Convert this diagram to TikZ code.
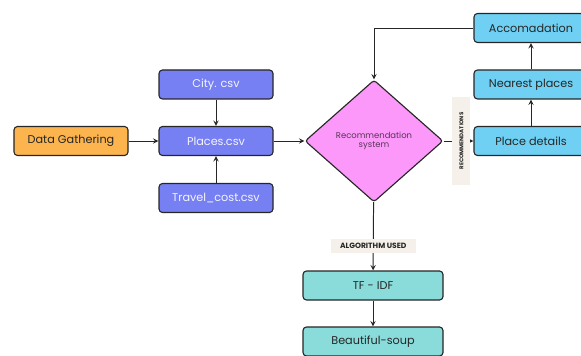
\documentclass[tikz,border=0pt]{standalone}
\usepackage{fontspec}
\setmainfont{Poppins}
\usepackage{tikz}
\usetikzlibrary{arrows.meta,calc,positioning,shapes.geometric}

\definecolor{gatherorange}{HTML}{FBB44E}
\definecolor{csvblue}{HTML}{7680F2}
\definecolor{recpink}{HTML}{FC98FA}
\definecolor{outblue}{HTML}{6FD0F3}
\definecolor{algoteal}{HTML}{8ADCDA}
\definecolor{tagbeige}{HTML}{F5F1EA}

\begin{document}
\begin{tikzpicture}[
    every node/.style={font=\footnotesize},
    >=stealth,
    box/.style={draw=black!85, line width=0.8pt, rounded corners=2.5pt,
        minimum width=2.85cm, minimum height=0.725cm, inner sep=1pt},
    csvbox/.style={box, fill=csvblue, text=white!92!csvblue},
    outbox/.style={box, fill=outblue, text=black!85},
    algobox/.style={box, fill=algoteal, text=black!85, minimum width=3.5cm},
    tag/.style={fill=tagbeige, inner sep=1pt, text=black!85},
    link/.style={->, line width=0.7pt, black!85}
]

\useasboundingbox (0,0) rectangle (14.525,-8.9);

% Input side
\node[box, fill=gatherorange, text=black!85] (gather) at (1.775,-3.525)
    {Data Gathering};
\node[csvbox] (city) at (5.4,-2.1125) {City. csv};
\node[csvbox] (places) at (5.4,-3.525) {Places.csv};
\node[csvbox] (travel) at (5.4,-4.95) {Travel\_cost.csv};

\draw[link] (gather) -- (places);
\draw[link] (city) -- (places);
\draw[link] (travel) -- (places);

% Recommendation system
\node[diamond, draw=black!85, line width=0.8pt, fill=recpink,
    rounded corners=2pt, aspect=1.13, inner sep=0pt,
    minimum width=3.45cm, minimum height=3.05cm,
    align=center, text=black!65!recpink,
    font=\fontsize{6}{6.5}\selectfont] (rec) at (9.35,-3.525)
    {Recommendation\\system};

\draw[link] (places) -- (rec);

% Outputs
\node[outbox] (accom) at (13.275,-0.7) {Accomadation};
\node[outbox] (nearest) at (13.275,-2.1125) {Nearest places};
\node[outbox] (details) at (13.275,-3.525) {Place details};

\draw[link] (rec) --
    node[tag, rotate=90, pos=0.6, minimum width=2.2cm, minimum height=0.45cm,
        font=\fontsize{3.9}{4}\selectfont\bfseries] (recomtag)
    {RECOMMENDATIONS}
    (details);
\draw[link] (details) -- (nearest);
\draw[link] (nearest) -- (accom);
\draw[link] (accom.west) -| (rec.north);

% Algorithms
\node[algobox] (tfidf) at (9.325,-7.1375) {TF - IDF};
\node[algobox] (soup) at (9.325,-8.5375) {Beautiful-soup};

\draw[link] (rec) --
    node[tag, pos=0.64, minimum width=2.125cm, minimum height=0.35cm,
        font=\fontsize{5.4}{6}\selectfont\bfseries] (algotag)
    {ALGORITHM USED}
    (tfidf);
\draw[link] (tfidf) -- (soup);

\end{tikzpicture}
\end{document}
